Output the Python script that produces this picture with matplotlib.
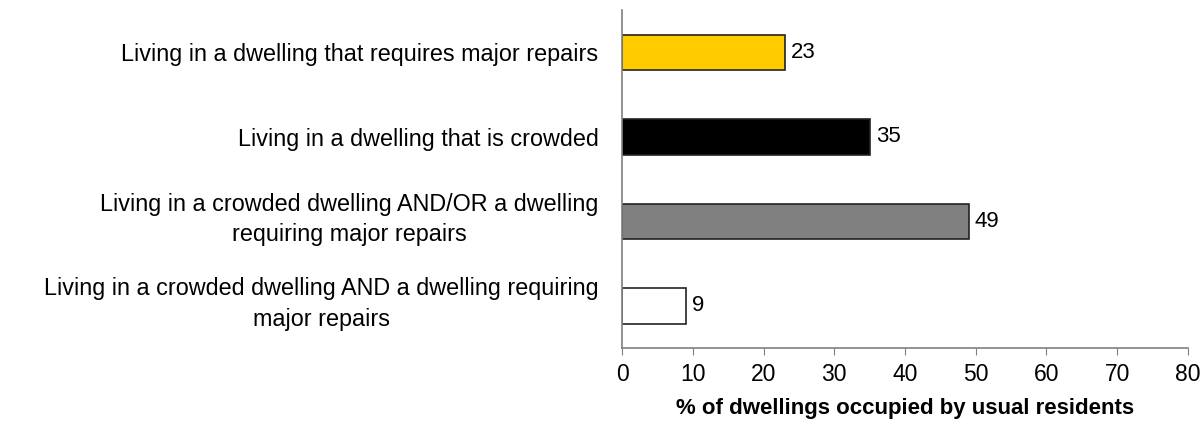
import matplotlib.pyplot as plt
from matplotlib.transforms import ScaledTranslation

plt.rcParams['font.family'] = ['Liberation Sans', 'DejaVu Sans']

# Data
categories = [
    "Living in a dwelling that requires major repairs",
    "Living in a dwelling that is crowded",
    "Living in a crowded dwelling AND/OR a dwelling\nrequiring major repairs",
    "Living in a crowded dwelling AND a dwelling requiring\nmajor repairs",
]
values = [23, 35, 49, 9]
colors = ["#FFCC00", "#000000", "#808080", "#FFFFFF"]

fig = plt.figure(figsize=(12.01, 4.21), dpi=100)
ax = fig.add_axes([0.518, 0.173, 0.471, 0.803])

pos = list(range(len(categories)))
ax.barh(pos, values, height=0.42, color=colors, edgecolor="#222222", linewidth=1.2)

for p, v in zip(pos, values):
    ax.text(v + 0.9, p, str(v), va="center", ha="left", fontsize=16)

ax.set_ylim(3.5, -0.5)
ax.set_xlim(0, 80)
ax.set_xticks(range(0, 81, 10))
ax.set_yticks(pos)
ax.set_yticklabels(categories, fontsize=16.8, ha="right", multialignment="center",
                   linespacing=1.4)
ax.tick_params(axis="y", length=0, pad=17)
ax.tick_params(axis="x", labelsize=16.5, length=5, color="#808080", pad=6)

# two-line labels sit a little above the bar centre in the original
for lab in ax.get_yticklabels():
    if "\n" in lab.get_text():
        lab.set_transform(lab.get_transform() + ScaledTranslation(0, 0.08, fig.dpi_scale_trans))

for s in ["top", "right"]:
    ax.spines[s].set_visible(False)
for s in ["left", "bottom"]:
    ax.spines[s].set_color("#808080")
    ax.spines[s].set_linewidth(1.2)

ax.set_xlabel("% of dwellings occupied by usual residents", fontsize=16, fontweight="bold", labelpad=8)

plt.savefig("out.png", dpi=100)
